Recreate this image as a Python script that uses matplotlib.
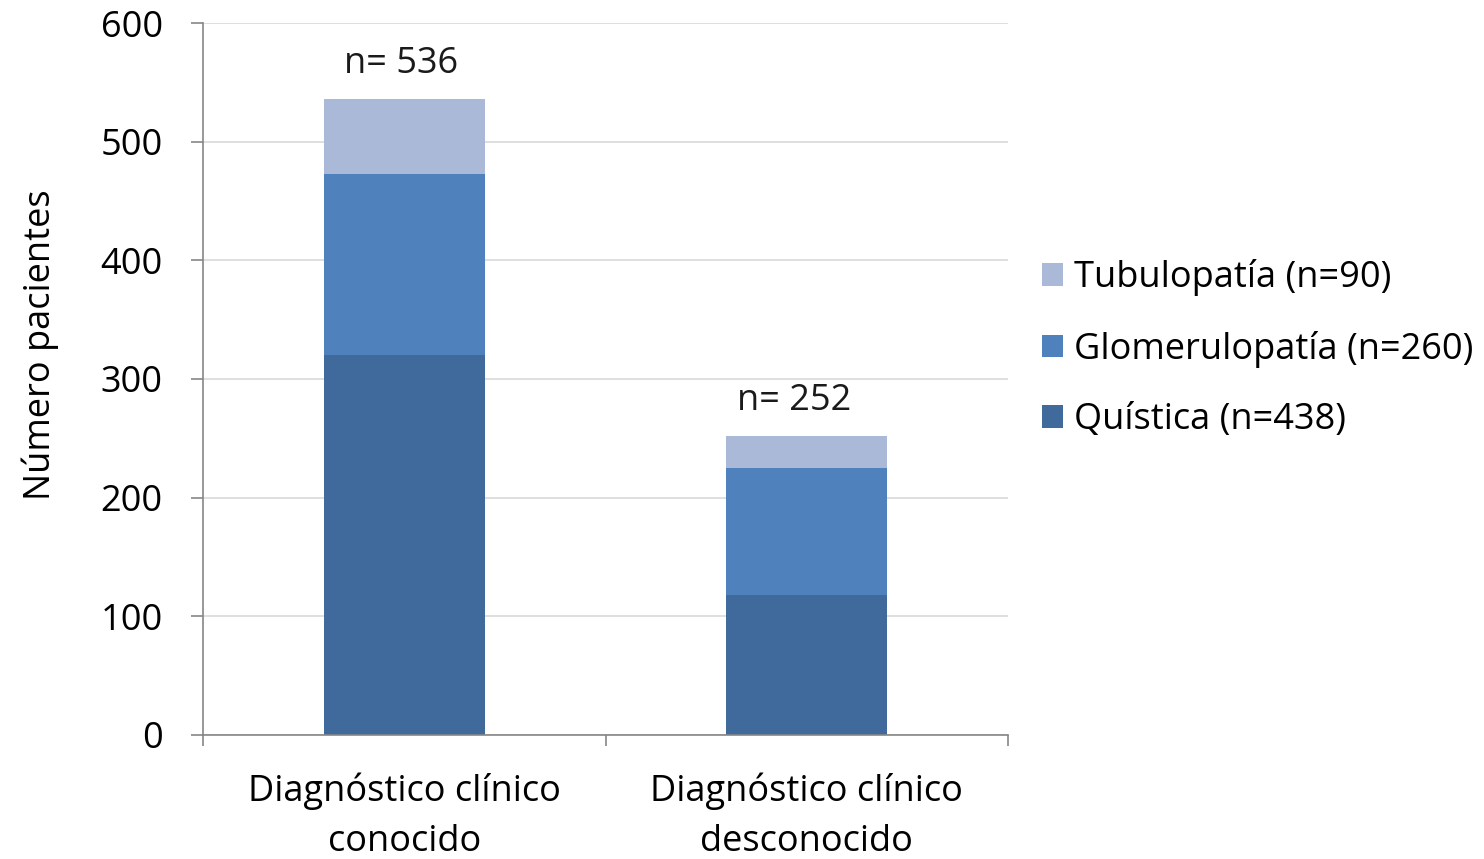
import matplotlib.pyplot as plt
import numpy as np
from matplotlib.patches import Patch

plt.rcParams['font.family'] = ['Open Sans', 'DejaVu Sans']

# Patients per group, split by disease type
categories = ['Diagnóstico clínico\nconocido', 'Diagnóstico clínico\ndesconocido']
quistica = [320, 118]
glomerulopatia = [153, 107]
tubulopatia = [63, 27]

series_labels = ['Quística (n=438)', 'Glomerulopatía (n=260)', 'Tubulopatía (n=90)']
colors = ['#416A9C', '#4F81BD', '#AAB9D7']

FS = 26

fig = plt.figure(figsize=(14.84, 8.59), dpi=100)
ax = fig.add_axes([0.1368, 0.1444, 0.5425, 0.8288])

x = np.arange(len(categories)) + 0.5
width = 0.4

bottom = np.zeros(len(categories))
for vals, color in zip([quistica, glomerulopatia, tubulopatia], colors):
    ax.bar(x, vals, width, bottom=bottom, color=color, zorder=2)
    bottom += np.array(vals)

# Totals above each stack (slightly left of the bar centre)
for xi, total, dx in zip(x, bottom, [-2, -9]):
    ax.annotate(f'n= {int(total)}', (xi, total), xytext=(dx, 12),
                textcoords='offset points', ha='center', va='bottom',
                fontsize=FS, color='#1a1a1a')

ax.set_xlim(0, 2)
ax.set_ylim(0, 600)
ax.set_yticks(range(0, 601, 100))
ax.grid(axis='y', color='#d9d9d9', linewidth=1.2, zorder=0)

ax.set_xticks(x)
ax.set_xticklabels(categories, fontsize=FS, linespacing=1.53)
ax.set_xticks([0, 1, 2], minor=True)
ax.tick_params(axis='x', which='major', length=0, pad=27)
ax.tick_params(axis='x', which='minor', length=8, width=1.2, color='#868686')
ax.tick_params(axis='y', labelsize=FS, length=9, width=1.2, color='#868686', pad=20)

for side in ['top', 'right']:
    ax.spines[side].set_visible(False)
for side in ['left', 'bottom']:
    ax.spines[side].set_color('#868686')
    ax.spines[side].set_linewidth(1.2)

ax.set_ylabel('Número pacientes', fontsize=FS, labelpad=30)
ax.yaxis.label.set_y(0.548)

handles = [Patch(facecolor=c) for c in colors][::-1]
fig.legend(handles, series_labels[::-1], loc='center left',
           bbox_to_anchor=(0.702, 0.594), frameon=False, fontsize=FS,
           handlelength=0.6, handleheight=0.6, handletextpad=0.3,
           labelspacing=0.95, borderpad=0, borderaxespad=0)

fig.savefig('out.png', dpi=100)
